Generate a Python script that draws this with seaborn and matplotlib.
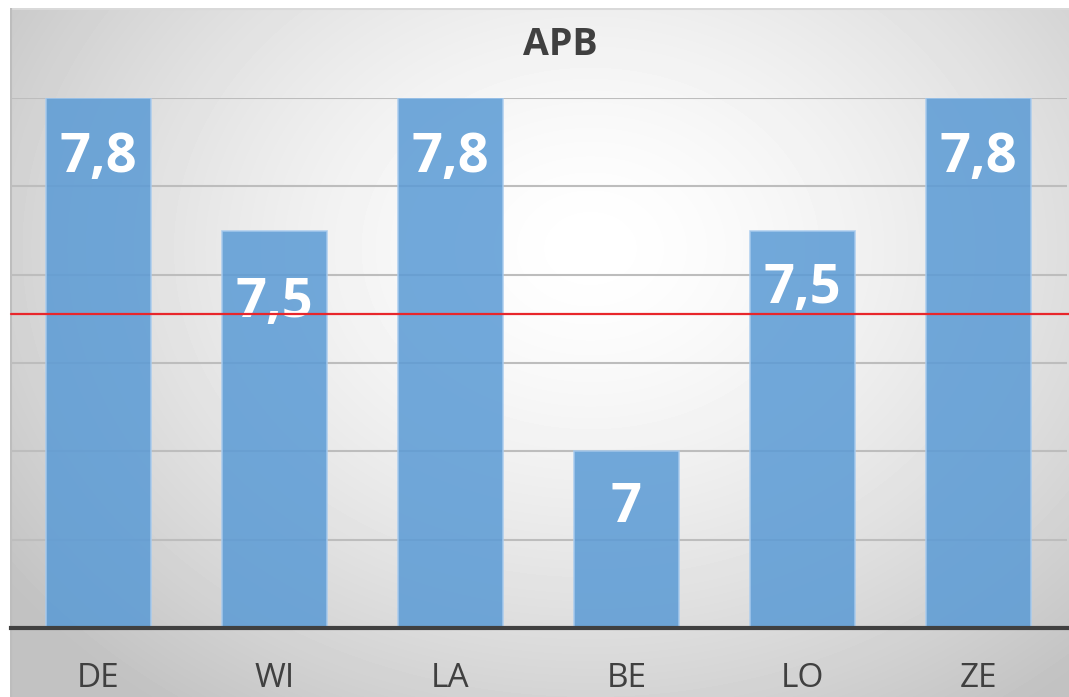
"""
Grafic APB - bare verticale cu fundal gradient radial (stil Excel).
"""
import numpy as np
import pandas as pd
import matplotlib
matplotlib.use("Agg")
import matplotlib.pyplot as plt
import matplotlib.transforms as mtransforms
import seaborn as sns

# ─────────────────────────────────────────────────────────────────
# DATE
# ─────────────────────────────────────────────────────────────────
categorii = ["DE", "WI", "LA", "BE", "LO", "ZE"]
valori = [7.8, 7.5, 7.8, 7.0, 7.5, 7.8]
etichete = ["7,8", "7,5", "7,8", "7", "7,5", "7,8"]
prag = 7.31
titlu = "APB"

# decalaj (pixeli) al etichetei sub capatul barei
decalaj_eticheta = [-74, -87, -74, -71, -72, -74]

df = pd.DataFrame({"cat": categorii, "val": valori})

sns.set_style("white")
plt.rcParams["font.family"] = ["Open Sans", "DejaVu Sans"]

W, H = 1069, 697
fig = plt.figure(figsize=(W / 100, H / 100), dpi=100)

# ─────────────────────────────────────────────────────────────────
# FUNDAL - gradient radial
# ─────────────────────────────────────────────────────────────────
bg = fig.add_axes([10 / W, 0, 1 - 10 / W, 1 - 8 / H])
bg.set_axis_off()
yy, xx = np.mgrid[0:689, 0:1059]
cx, cy = 580, 240
r = np.sqrt(((xx - cx) / 760.0) ** 2 + ((yy - cy) / 600.0) ** 2)
g = np.clip(1.0 - 0.26 * r ** 1.5, 0.76, 1.0)
bg.imshow(g, cmap="gray", vmin=0, vmax=1, aspect="auto",
          extent=[0, 1, 0, 1], origin="upper", interpolation="bilinear")
bg.set_xlim(0, 1)
bg.set_ylim(0, 1)
bg.plot([0, 1], [0.999, 0.999], color="#d9d9d9", lw=1.5)
bg.plot([0.001, 0.001], [0, 1], color="#bdbdbd", lw=1.5)

# ─────────────────────────────────────────────────────────────────
# GRAFIC
# ─────────────────────────────────────────────────────────────────
ax = fig.add_axes([10.5 / W, (H - 628) / H, 1056 / W, (628 - 98) / H])
ax.patch.set_alpha(0)

sns.barplot(data=df, x="cat", y="val", ax=ax, color="#5B9BD5", alpha=0.86,
            width=0.6, edgecolor="#a8cbee", linewidth=1.2, saturation=1, zorder=3)

ax.set_ylim(6.6, 7.8)
ax.set_xlim(-0.5, len(categorii) - 0.5)
ax.set_yticks(np.arange(6.8, 7.81, 0.2))
ax.yaxis.grid(True, color="#bdbdbd", lw=1.5, zorder=0)
ax.set_axisbelow(True)
ax.tick_params(axis="y", left=False, labelleft=False)
ax.tick_params(axis="x", bottom=False, pad=21, labelsize=24, labelcolor="#404040")
ax.set_xlabel("")
ax.set_ylabel("")
for s in ["top", "right", "left"]:
    ax.spines[s].set_visible(False)
ax.spines["bottom"].set_color("#404040")
ax.spines["bottom"].set_linewidth(3)
ax.spines["bottom"].set_zorder(5)

# etichete de date
for i, (v, txt) in enumerate(zip(valori, etichete)):
    ax.annotate(txt, xy=(i, v), xytext=(0, decalaj_eticheta[i]),
                textcoords="offset pixels", ha="center", va="baseline",
                color="white", fontsize=39, fontweight="bold", zorder=6)

# linia rosie de prag - pe toata latimea zonei graficului
trans = mtransforms.blended_transform_factory(fig.transFigure, ax.transData)
ax.plot([11 / W, 1.0], [prag, prag], transform=trans, color="#e8262b",
        lw=1.6, clip_on=False, zorder=7)

fig.text(560 / W, 1 - 55 / H, titlu, ha="center", va="baseline",
         fontsize=27, fontweight="bold", color="#404040")

fig.savefig("out.png", dpi=100)
